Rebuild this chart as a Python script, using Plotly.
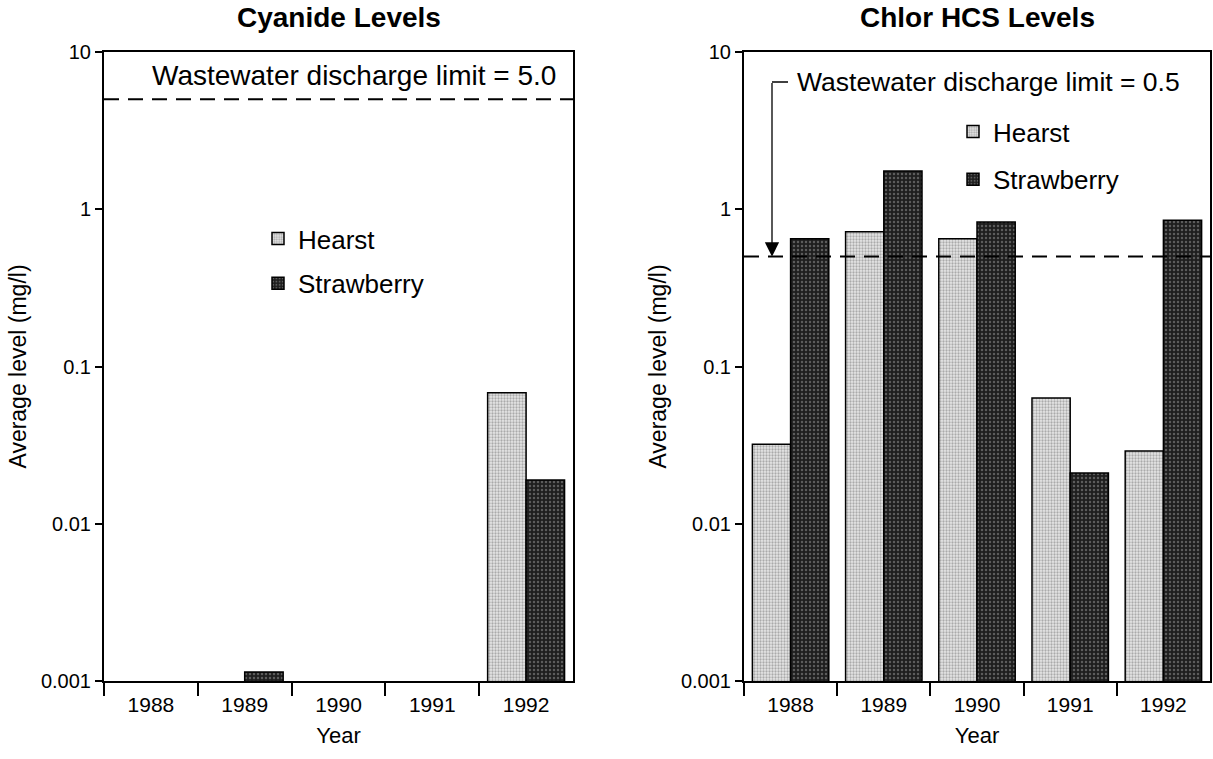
import math
import plotly.graph_objects as go

# ---- data -------------------------------------------------------------
years = ["1988", "1989", "1990", "1991", "1992"]

cyanide_hearst = [None, None, None, None, 0.068]
cyanide_strawberry = [None, 0.00114, None, None, 0.019]

chlor_hearst = [0.032, 0.72, 0.65, 0.063, 0.029]
chlor_strawberry = [0.65, 1.75, 0.83, 0.021, 0.85]

cyanide_limit = 5.0
chlor_limit = 0.5

y_tick_vals = [0.001, 0.01, 0.1, 1, 10]
y_tick_text = ["0.001", "0.01", "0.1", "1", "10"]

# ---- page geometry ----------------------------------------------------
W, H = 1213, 759
FONT = "Liberation Sans, Arial, Helvetica, sans-serif"


def px_x(p):
    return p / W


def px_y(p):
    return 1 - p / H


left_dom = [px_x(104), px_x(573)]
right_dom = [px_x(744), px_x(1210)]
y_dom = [px_y(681), px_y(52)]

hearst_pattern = dict(shape=".", bgcolor="#e6e6e6", fgcolor="#6e6e6e",
                      size=3, solidity=0.45)
straw_pattern = dict(shape=".", bgcolor="#1e1e1e", fgcolor="#9a9a9a",
                     size=4, solidity=0.3)
outline = dict(color="black", width=1.5)

fig = go.Figure()

fig.add_trace(go.Bar(x=years, y=cyanide_hearst, name="Hearst",
                     marker=dict(pattern=hearst_pattern, line=outline),
                     xaxis="x", yaxis="y", legend="legend",
                     legendgroup="h1"))
fig.add_trace(go.Bar(x=years, y=cyanide_strawberry, name="Strawberry",
                     marker=dict(pattern=straw_pattern, line=outline),
                     xaxis="x", yaxis="y", legend="legend",
                     legendgroup="s1"))
fig.add_trace(go.Bar(x=years, y=chlor_hearst, name="Hearst",
                     marker=dict(pattern=hearst_pattern, line=outline),
                     xaxis="x2", yaxis="y2", legend="legend2",
                     legendgroup="h2"))
fig.add_trace(go.Bar(x=years, y=chlor_strawberry, name="Strawberry",
                     marker=dict(pattern=straw_pattern, line=outline),
                     xaxis="x2", yaxis="y2", legend="legend2",
                     legendgroup="s2"))

xaxis_common = dict(
    type="category", showline=True, linecolor="black", linewidth=2,
    mirror=True, ticks="outside", tickson="boundaries", ticklen=13,
    tickwidth=2, tickcolor="black", showgrid=False, zeroline=False,
    automargin=False, ticklabelstandoff=4,
    tickfont=dict(family=FONT, size=21, color="black"),
    title=dict(text="Year", font=dict(family=FONT, size=22, color="black"),
               standoff=12),
)
yaxis_common = dict(
    type="log", range=[-3, 1], showline=True, linecolor="black",
    linewidth=2, mirror=True, ticks="outside", ticklen=7, tickwidth=1.5,
    tickcolor="black", showgrid=False, zeroline=False, automargin=False,
    tickvals=y_tick_vals, ticktext=y_tick_text, domain=y_dom,
    tickfont=dict(family=FONT, size=20, color="black"),
    title=dict(text="Average level (mg/l)",
               font=dict(family=FONT, size=23, color="black"), standoff=8),
)

legend_common = dict(
    font=dict(family=FONT, size=26, color="black"), bgcolor="rgba(0,0,0,0)",
    tracegroupgap=11, itemwidth=30, yanchor="top", xanchor="left",
)

fig.update_layout(
    width=W, height=H, margin=dict(l=0, r=0, t=0, b=0),
    paper_bgcolor="white", plot_bgcolor="white",
    barmode="group", bargap=0.18, bargroupgap=0,
    xaxis=dict(domain=left_dom, anchor="y", **xaxis_common),
    yaxis=dict(anchor="x", **yaxis_common),
    xaxis2=dict(domain=right_dom, anchor="y2", **xaxis_common),
    yaxis2=dict(anchor="x2", **yaxis_common),
    legend=dict(x=px_x(258), y=px_y(215), tracegroupgap=8,
                **{k: v for k, v in legend_common.items()
                   if k != "tracegroupgap"}),
    legend2=dict(x=px_x(953), y=px_y(108), **legend_common),
    showlegend=True,
)

# panel titles
for label, cx in [("Cyanide Levels", 339), ("Chlor HCS Levels", 977)]:
    fig.add_annotation(text=f"<b>{label}</b>", x=px_x(cx), y=px_y(18),
                       xref="paper", yref="paper", xanchor="center",
                       yanchor="middle", showarrow=False,
                       font=dict(family=FONT, size=28, color="black"))

# discharge limit lines
dash_style = dict(color="black", width=2, dash="15px,9px")
fig.add_shape(type="line", xref="x domain", yref="y", x0=0, x1=1,
              y0=cyanide_limit, y1=cyanide_limit, line=dash_style)
fig.add_shape(type="line", xref="x2 domain", yref="y2", x0=0, x1=1,
              y0=chlor_limit, y1=chlor_limit, line=dash_style)

fig.add_annotation(text=f"Wastewater discharge limit = {cyanide_limit:.1f}",
                   x=px_x(354), y=px_y(76), xref="paper", yref="paper",
                   xanchor="center", yanchor="middle", showarrow=False,
                   font=dict(family=FONT, size=28, color="black"))
fig.add_annotation(text=f"Wastewater discharge limit = {chlor_limit:.1f}",
                   x=px_x(795), y=px_y(82), xref="paper", yref="paper",
                   xanchor="left", yanchor="middle", showarrow=False,
                   font=dict(family=FONT, size=26.5, color="black"))

# bracket + arrow pointing down to the Chlor HCS limit line
fig.add_shape(type="line", xref="paper", yref="paper",
              x0=px_x(772), x1=px_x(788), y0=px_y(82), y1=px_y(82),
              line=dict(color="black", width=1.5))
fig.add_annotation(text="", xref="paper", yref="y2", x=px_x(772),
                   y=math.log10(chlor_limit), showarrow=True,
                   axref="pixel", ayref="pixel", ax=0, ay=-175,
                   arrowhead=2, arrowsize=2.2, arrowwidth=1.3,
                   arrowcolor="black", standoff=0)

fig.write_html("out.html")
